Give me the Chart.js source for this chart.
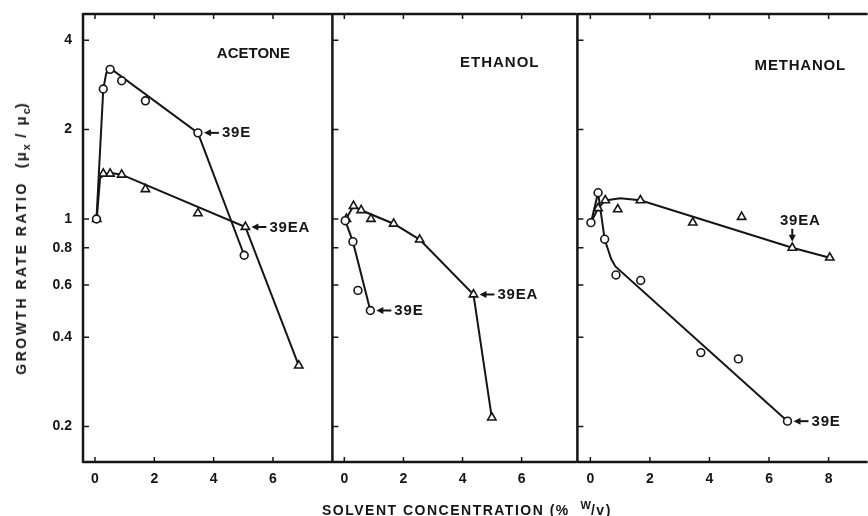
<!DOCTYPE html>
<html>
<head>
<meta charset="utf-8">
<script src="https://cdn.jsdelivr.net/npm/chart.js@4.4.1/dist/chart.umd.min.js"></script>
<style>
  body { margin: 0; width: 868px; height: 516px; background: #fff; position: relative; overflow: hidden;
         font-family: "Liberation Sans", Arial, sans-serif; color: #151515; }
  .panel { position: absolute; top: 0; height: 516px; }
  #ytitle { position: absolute; left: 22px; top: 238px; transform: translate(-50%, -50%) rotate(-90deg);
            white-space: nowrap; font-weight: bold; font-size: 14px; letter-spacing: 2.5px; }
  #ytitle .par { font-size: 15px; letter-spacing: 2px; }
  #xtitle { position: absolute; left: 322px; top: 499px; white-space: nowrap; font-weight: bold;
            font-size: 14px; letter-spacing: 1.5px; }
  sub, sup { font-size: 11px; letter-spacing: 0; }
</style>
</head>
<body>
<div class="panel" style="left:0;width:340px"><canvas id="acetone"></canvas></div>
<div class="panel" style="left:326px;width:257px"><canvas id="ethanol"></canvas></div>
<div class="panel" style="left:571px;width:303px"><canvas id="methanol"></canvas></div>
<div id="ytitle">GROWTH RATE RATIO&nbsp;&nbsp;<span class="par">(μ<sub>x</sub> / μ<sub>c</sub>)</span></div>
<div id="xtitle">SOLVENT CONCENTRATION (%&nbsp; <sup>W</sup>/v)</div>
<script>
// values: x = solvent % w/v, y = growth rate ratio
// acetone
const acetoneE_x = [0.05, 0.28, 0.51, 0.90, 1.70, 3.47, 5.03];
const acetoneE_y = [1.00, 2.74, 3.19, 2.92, 2.50, 1.95, 0.755];
const acetoneEA_x = [0.06, 0.28, 0.51, 0.90, 1.70, 3.47, 5.07, 6.87];
const acetoneEA_y = [1.00, 1.42, 1.42, 1.41, 1.26, 1.045, 0.94, 0.321];
const acetoneEfit_x = [0.05, 0.28, 0.38, 0.51, 3.47, 5.03];
const acetoneEfit_y = [1.00, 2.74, 3.10, 3.22, 1.95, 0.755];
const acetoneEAfit_x = [0.06, 0.17, 0.30, 0.51, 0.90, 5.07, 6.87];
const acetoneEAfit_y = [1.00, 1.37, 1.41, 1.43, 1.41, 0.94, 0.321];
// ethanol
const ethanolE_x = [0.03, 0.29, 0.46, 0.88];
const ethanolE_y = [0.987, 0.839, 0.575, 0.492];
const ethanolEA_x = [0.07, 0.31, 0.57, 0.90, 1.67, 2.55, 4.37, 4.99];
const ethanolEA_y = [1.00, 1.106, 1.07, 1.00, 0.964, 0.852, 0.557, 0.2145];
const ethanolEfit_x = [0.03, 0.29, 0.88];
const ethanolEfit_y = [0.987, 0.839, 0.492];
const ethanolEAfit_x = [0.03, 0.31, 0.57, 1.67, 2.55, 4.37, 4.99];
const ethanolEAfit_y = [0.99, 1.106, 1.07, 0.964, 0.852, 0.557, 0.2145];
// methanol
const methanolE_x = [0.02, 0.26, 0.48, 0.86, 1.69, 3.71, 4.97, 6.62];
const methanolE_y = [0.972, 1.226, 0.855, 0.648, 0.621, 0.355, 0.338, 0.2086];
const methanolEA_x = [0.26, 0.50, 0.92, 1.68, 3.44, 5.08, 6.78, 8.04];
const methanolEA_y = [1.087, 1.156, 1.078, 1.156, 0.972, 1.016, 0.80, 0.741];
const methanolEfit_x = [0.02, 0.26, 0.48, 0.61, 0.70, 0.84, 6.62];
const methanolEfit_y = [0.972, 1.226, 0.855, 0.78, 0.733, 0.692, 0.2086];
const methanolEAfit_x = [0.02, 0.26, 0.50, 1.00, 1.68, 6.78, 8.04];
const methanolEAfit_y = [0.972, 1.087, 1.155, 1.175, 1.156, 0.80, 0.741];

// axis ticks
const yTicks = [0.2, 0.4, 0.6, 0.8, 1, 2, 4];
const yTickLabels = ["0.2", "0.4", "0.6", "0.8", "1", "2", "4"];
const xTicksShort = [0, 2, 4, 6];
const xTicksLong = [0, 2, 4, 6, 8];

// arrow labels: strain name and the point it points at
const acetoneNote_text = ["39E", "39EA"];
const acetoneNote_x = [3.47, 5.07];
const acetoneNote_y = [1.95, 0.94];
const ethanolNote_text = ["39EA", "39E"];
const ethanolNote_x = [4.37, 0.88];
const ethanolNote_y = [0.557, 0.492];
const methanolNote_text = ["39EA", "39E"];
const methanolNote_x = [6.78, 6.62];
const methanolNote_y = [0.80, 0.2086];

const ink = "#151515";
const fontFam = "'Liberation Sans', Arial, sans-serif";

function pts(xs, ys) {
    return xs.map((x, i) => ({x: x, y: ys[i]}));
}

function markers(xs, ys, style) {
    return {
        data: pts(xs, ys), showLine: false, pointStyle: style,
        pointRadius: style === "triangle" ? 4.8 : 3.9,
        pointBorderWidth: 1.6, pointBorderColor: ink, pointBackgroundColor: "#fff",
        order: 0
    };
}

function fitLine(xs, ys) {
    return {
        data: pts(xs, ys), showLine: true, pointRadius: 0, borderColor: ink,
        borderWidth: 2, tension: 0, fill: false, order: 1
    };
}

function arrow(ctx, x1, y1, x2, y2) {
    // shaft from (x1,y1), filled head at (x2,y2)
    const ang = Math.atan2(y2 - y1, x2 - x1);
    ctx.beginPath();
    ctx.moveTo(x1, y1);
    ctx.lineTo(x2 - 5 * Math.cos(ang), y2 - 5 * Math.sin(ang));
    ctx.stroke();
    ctx.beginPath();
    ctx.moveTo(x2, y2);
    ctx.lineTo(x2 - 7 * Math.cos(ang) + 3.5 * Math.sin(ang), y2 - 7 * Math.sin(ang) - 3.5 * Math.cos(ang));
    ctx.lineTo(x2 - 7 * Math.cos(ang) - 3.5 * Math.sin(ang), y2 - 7 * Math.sin(ang) + 3.5 * Math.cos(ang));
    ctx.closePath();
    ctx.fill();
}

const framePlugin = {
    id: "frame",
    afterDraw(chart, args, opts) {
        const ctx = chart.ctx, a = chart.chartArea;
        const xs = chart.scales.x, ys = chart.scales.y;
        ctx.save();
        ctx.strokeStyle = ink;
        ctx.fillStyle = ink;
        ctx.lineWidth = 2.5;
        ctx.beginPath();
        ctx.moveTo(a.left, a.top); ctx.lineTo(a.right, a.top);
        ctx.moveTo(a.left, a.bottom); ctx.lineTo(a.right, a.bottom);
        ctx.moveTo(a.left, a.top - 1); ctx.lineTo(a.left, a.bottom + 1);
        ctx.stroke();
        // inward tick marks
        ctx.lineWidth = 1.5;
        ctx.beginPath();
        opts.xTicks.forEach(v => {
            const p = xs.getPixelForValue(v);
            ctx.moveTo(p, a.bottom); ctx.lineTo(p, a.bottom - 5);
            ctx.moveTo(p, a.top); ctx.lineTo(p, a.top + 5);
        });
        yTicks.forEach(v => {
            const p = ys.getPixelForValue(v);
            ctx.moveTo(a.left, p); ctx.lineTo(a.left + 6, p);
        });
        ctx.stroke();
        // panel name
        ctx.font = "bold 15px " + fontFam;
        ctx.letterSpacing = opts.titleSpacing;
        ctx.textAlign = "center";
        ctx.textBaseline = "middle";
        ctx.fillText(opts.title, xs.getPixelForValue(opts.titleAt[0]), ys.getPixelForValue(opts.titleAt[1]));
        // strain arrows
        ctx.letterSpacing = "0.8px";
        ctx.lineWidth = 2;
        opts.notes.text.forEach((t, i) => {
            const px = xs.getPixelForValue(opts.notes.x[i]);
            const py = ys.getPixelForValue(opts.notes.y[i]);
            if (opts.notes.down && opts.notes.down[i]) {
                arrow(ctx, px, py - 19, px, py - 6);
                ctx.textAlign = "center";
                ctx.fillText(t, px + 8, py - 27);
            } else {
                arrow(ctx, px + 21, py, px + 6, py);
                ctx.textAlign = "left";
                ctx.fillText(t, px + 24, py + 0.5);
            }
        });
        ctx.restore();
    }
};

function makePanel(id, xMin, xMax, xTicks, showY, pad, datasets, title, titleAt, titleSpacing, notes) {
    const tickFont = {family: fontFam, size: 14, weight: "bold"};
    return new Chart(document.getElementById(id), {
        type: "scatter",
        data: {datasets: datasets},
        options: {
            responsive: true,
            maintainAspectRatio: false,
            animation: false,
            events: [],
            layout: {padding: {top: 14, left: pad[0], right: pad[1], bottom: 0}},
            plugins: {
                legend: {display: false},
                tooltip: {enabled: false},
                frame: {xTicks: xTicks, title: title, titleAt: titleAt, titleSpacing: titleSpacing, notes: notes}
            },
            scales: {
                x: {
                    type: "linear", min: xMin, max: xMax,
                    grid: {display: false, drawTicks: false},
                    border: {display: false},
                    afterBuildTicks: axis => { axis.ticks = xTicks.map(v => ({value: v})); },
                    afterFit: scale => {
                        scale.height = 54;
                        scale.paddingLeft = 0; scale.paddingRight = 0;
                    },
                    ticks: {font: tickFont, color: ink, padding: 9, maxRotation: 0, callback: v => String(v)}
                },
                y: {
                    type: "logarithmic", min: 0.152, max: 4.9, display: showY,
                    grid: {display: false, drawTicks: false},
                    border: {display: false},
                    afterBuildTicks: axis => { axis.ticks = yTicks.map(v => ({value: v})); },
                    afterFit: scale => {
                        if (showY) scale.width = 83;
                        scale.paddingTop = 0; scale.paddingBottom = 0;
                    },
                    ticks: {font: tickFont, color: ink, padding: 11,
                            callback: v => yTickLabels[yTicks.indexOf(v)]}
                }
            }
        },
        plugins: [framePlugin]
    });
}

makePanel("acetone", -0.404, 7.99, xTicksShort, true, [0, 8], [
    markers(acetoneE_x, acetoneE_y, "circle"),
    markers(acetoneEA_x, acetoneEA_y, "triangle"),
    fitLine(acetoneEfit_x, acetoneEfit_y),
    fitLine(acetoneEAfit_x, acetoneEAfit_y)
], "ACETONE", [5.34, 3.6], "0px", {text: acetoneNote_text, x: acetoneNote_x, y: acetoneNote_y});

makePanel("ethanol", -0.404, 7.86, xTicksShort, false, [6, 6], [
    markers(ethanolE_x, ethanolE_y, "circle"),
    markers(ethanolEA_x, ethanolEA_y, "triangle"),
    fitLine(ethanolEfit_x, ethanolEfit_y),
    fitLine(ethanolEAfit_x, ethanolEAfit_y)
], "ETHANOL", [5.26, 3.36], "1px", {text: ethanolNote_text, x: ethanolNote_x, y: ethanolNote_y});

makePanel("methanol", -0.435, 9.31, xTicksLong, false, [6, 0], [
    markers(methanolE_x, methanolE_y, "circle"),
    markers(methanolEA_x, methanolEA_y, "triangle"),
    fitLine(methanolEfit_x, methanolEfit_y),
    fitLine(methanolEAfit_x, methanolEAfit_y)
], "METHANOL", [7.05, 3.28], "0.8px", {text: methanolNote_text, x: methanolNote_x, y: methanolNote_y, down: [true, false]});
</script>
</body>
</html>
